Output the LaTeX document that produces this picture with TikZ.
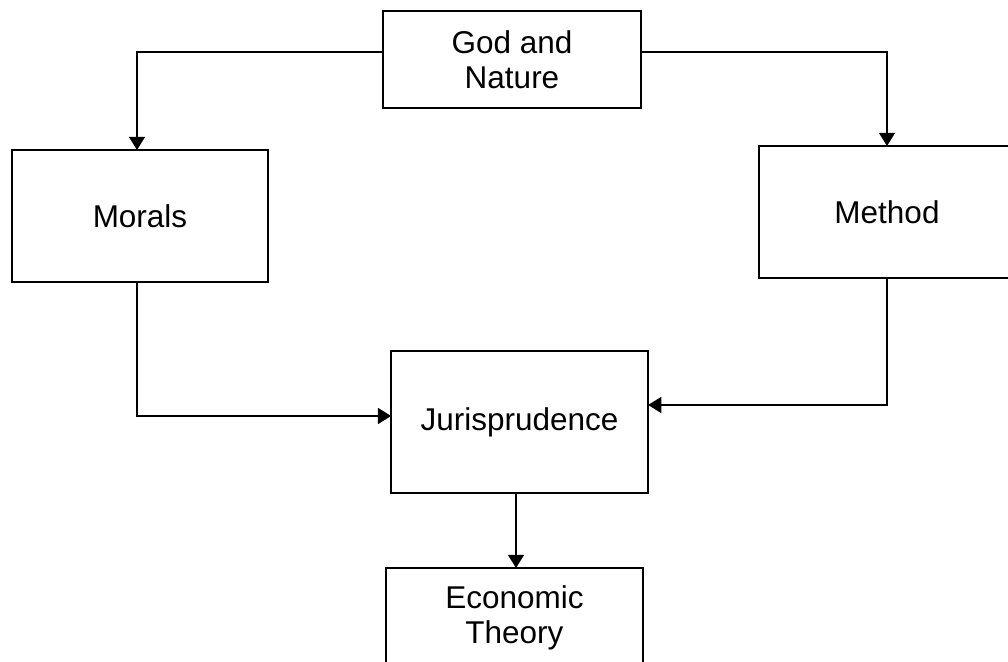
\documentclass[tikz,border=0pt]{standalone}
\usepackage{fontspec}
\setmainfont{Liberation Sans}
\usetikzlibrary{arrows.meta}
\begin{document}
\begin{tikzpicture}[
    box/.style={draw=black,line width=1.4pt,fill=white,inner sep=0pt,outer sep=0pt,
      align=center,font=\fontsize{22.4pt}{24.5pt}\selectfont},
    link/.style={line width=1.1pt,-{Triangle[length=0.33cm,width=0.4cm]}}]
  \clip (0,0) rectangle (25.2,16.55);
  \path[fill=white] (0,0) rectangle (25.2,16.55);
  \node[box,minimum width=6.45cm,minimum height=2.43cm] (god) at (12.8,15.06) {God and\\Nature};
  \node[box,minimum width=6.4cm,minimum height=3.3cm] (morals) at (3.5,11.15) {Morals};
  \node[box,minimum width=6.4cm,minimum height=3.3cm] (method) at (22.175,11.25) {Method};
  \node[box,minimum width=6.425cm,minimum height=3.55cm] (juris) at (12.99,6.0) {Jurisprudence};
  \node[box,minimum width=6.425cm,minimum height=2.5cm] (econ) at (12.86,1.1) {Economic\\Theory};
  \draw[link] ([yshift=0.19cm]god.west) -| ([xshift=-0.075cm]morals.north);
  \draw[link] ([yshift=0.19cm]god.east) -| (method.north);
  \draw[link] ([xshift=-0.075cm]morals.south) |- ([yshift=0.15cm]juris.west);
  \draw[link] (method.south) |- ([yshift=0.425cm]juris.east);
  \draw[link] ([xshift=-0.09cm]juris.south) -- ([xshift=-0.09cm]juris.south |- econ.north);
\end{tikzpicture}
\end{document}
